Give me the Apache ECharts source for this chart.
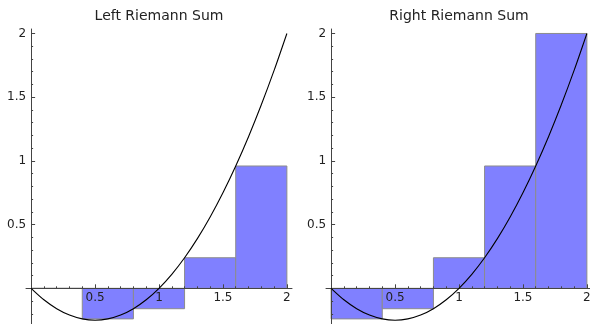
<!DOCTYPE html>
<html>
<head>
<meta charset="utf-8">
<script src="https://cdn.jsdelivr.net/npm/echarts@6/dist/echarts.min.js"></script>
<style>html,body{margin:0;padding:0;background:#fff}#c{width:590px;height:324px}</style>
</head>
<body>
<div id="c"></div>
<script>
// Curve samples (x, f(x))
const curveX = [0,0.1,0.2,0.3,0.4,0.5,0.6,0.7,0.8,0.9,1.0,1.1,1.2,1.3,1.4,1.5,1.6,1.7,1.8,1.9,2.0];
const curveY = [0,-0.09,-0.16,-0.21,-0.24,-0.25,-0.24,-0.21,-0.16,-0.09,0,0.11,0.24,0.39,0.56,0.75,0.96,1.19,1.44,1.71,2.0];
// Rectangle edges and heights
const rectLeftEdges = [0,0.4,0.8,1.2,1.6];
const rectRightEdges = [0.4,0.8,1.2,1.6,2.0];
const leftSumHeights = [0,-0.24,-0.16,0.24,0.96];
const rightSumHeights = [-0.24,-0.16,0.24,0.96,2.0];
const titles = ['Left Riemann Sum','Right Riemann Sum'];
const majorTicks = [0.5,1,1.5,2];
const xMinorTicks = [0.1,0.2,0.3,0.4,0.6,0.7,0.8,0.9,1.1,1.2,1.3,1.4,1.6,1.7,1.8,1.9];
const yMinorTicks = [-0.2,-0.1,0.1,0.2,0.3,0.4,0.6,0.7,0.8,0.9,1.1,1.2,1.3,1.4,1.6,1.7,1.8,1.9];

const FONT = 'DejaVu Sans';
const AX = '#444';
const xMin=-0.04, xMax=2.04, yMin=-0.28, yMax=2.035;
const grids = [
  {left:26, top:29, width:266, height:295, outerBoundsMode:'none', containLabel:false},
  {left:326, top:29, width:266, height:295, outerBoundsMode:'none', containLabel:false}
];
const titleCenters = [159, 459];
const sums = [leftSumHeights, rightSumHeights];

const chart = echarts.init(document.getElementById('c'), null, {renderer:'canvas'});
const xAxis=[], yAxis=[], series=[], title=[];
grids.forEach((g,i)=>{
  // shift axes so they cross at the data origin
  const xOff = -(0 - yMin)/(yMax - yMin)*g.height;
  const yOff = -(0 - xMin)/(xMax - xMin)*g.width;
  title.push({text:titles[i], left:titleCenters[i], top:9, textAlign:'center', padding:0,
    textStyle:{fontFamily:FONT, fontSize:14, fontWeight:'normal', color:'#222'}});
  xAxis.push({type:'value', gridIndex:i, min:xMin, max:xMax, position:'bottom', offset:xOff, z:10,
    splitLine:{show:false},
    axisLine:{show:true, onZero:false, lineStyle:{color:AX, width:1}},
    axisTick:{show:true, inside:true, length:4, customValues:majorTicks, lineStyle:{color:AX}},
    axisLabel:{show:true, margin:4, customValues:majorTicks, fontFamily:FONT, fontSize:12, color:'#222',
      formatter:v=>String(v)}
  });
  xAxis.push({type:'value', gridIndex:i, min:xMin, max:xMax, position:'bottom', offset:xOff, z:10,
    splitLine:{show:false},
    axisLine:{show:false, onZero:false},
    axisTick:{show:true, inside:true, length:2, customValues:xMinorTicks, lineStyle:{color:AX}},
    axisLabel:{show:false}
  });
  yAxis.push({type:'value', gridIndex:i, min:yMin, max:yMax, position:'left', offset:yOff, z:10,
    splitLine:{show:false},
    axisLine:{show:true, onZero:false, lineStyle:{color:AX, width:1}},
    axisTick:{show:true, inside:true, length:4, customValues:majorTicks, lineStyle:{color:AX}},
    axisLabel:{show:true, margin:5, customValues:majorTicks, fontFamily:FONT, fontSize:12, color:'#222',
      formatter:v=>String(v)}
  });
  yAxis.push({type:'value', gridIndex:i, min:yMin, max:yMax, position:'left', offset:yOff, z:10,
    splitLine:{show:false},
    axisLine:{show:false, onZero:false},
    axisTick:{show:true, inside:true, length:2, customValues:yMinorTicks, lineStyle:{color:AX}},
    axisLabel:{show:false}
  });
  const rectData = rectLeftEdges.map((x0,k)=>[x0, rectRightEdges[k], sums[i][k]]);
  series.push({type:'custom', xAxisIndex:2*i, yAxisIndex:2*i, data:rectData, silent:true,
    encode:{x:[0,1], y:2},
    renderItem:(params, api)=>{
      const p0 = api.coord([api.value(0), 0]);
      const p1 = api.coord([api.value(1), api.value(2)]);
      const x = Math.min(p0[0],p1[0]), y = Math.min(p0[1],p1[1]);
      return {type:'rect', shape:{x:x, y:y, width:Math.abs(p1[0]-p0[0]), height:Math.abs(p1[1]-p0[1])},
        style:{fill:'#8080ff', stroke:'#8c8c8c', lineWidth:1}};
    }, z:1});
  series.push({type:'line', xAxisIndex:2*i, yAxisIndex:2*i, data:curveX.map((x,k)=>[x,curveY[k]]),
    smooth:0.3, showSymbol:false, silent:true, lineStyle:{color:'#000', width:1.1}, z:12});
});
chart.setOption({animation:false, title, grid:grids, xAxis, yAxis, series});
</script>
</body>
</html>
